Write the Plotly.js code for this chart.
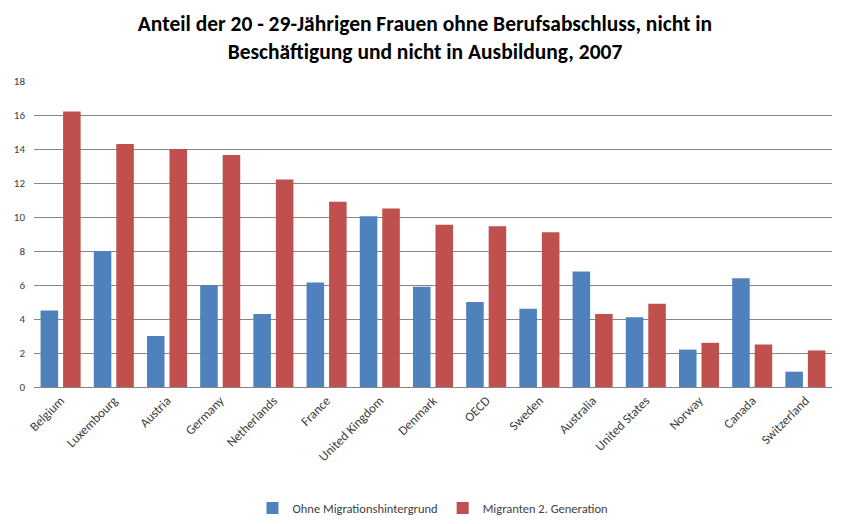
<!DOCTYPE html>
<html>
<head>
<meta charset="utf-8">
<script src="https://cdn.plot.ly/plotly-3.0.1.min.js"></script>
<style>
  html, body { margin: 0; padding: 0; background: #fff; }
  #chart { width: 850px; height: 524px; }
</style>
</head>
<body>
<div id="chart"></div>
<script>
"use strict";

var countries = ["Belgium", "Luxembourg", "Austria", "Germany", "Netherlands", "France",
  "United Kingdom", "Denmark", "OECD", "Sweden", "Australia", "United States",
  "Norway", "Canada", "Switzerland"];
var ohneMigration = [4.5, 8.0, 3.0, 6.0, 4.3, 6.15, 10.05, 5.9, 5.0, 4.6, 6.8, 4.1, 2.2, 6.4, 0.9];
var migranten2Gen = [16.2, 14.3, 14.0, 13.65, 12.2, 10.9, 10.5, 9.55, 9.45, 9.1, 4.3, 4.9, 2.6, 2.5, 2.15];
var yTicks = [0, 2, 4, 6, 8, 10, 12, 14, 16, 18];

var fontFam = "Carlito, 'Liberation Sans Narrow', 'Noto Sans', sans-serif";

var data = [{
  type: "bar",
  name: "Ohne Migrationshintergrund",
  x: countries,
  y: ohneMigration,
  marker: {color: "#4F81BD"}
}, {
  type: "bar",
  name: "Migranten 2. Generation",
  x: countries,
  y: migranten2Gen,
  marker: {color: "#C0504D"}
}];

var layout = {
  width: 850,
  height: 524,
  margin: {l: 34, r: 18, t: 81, b: 137},
  paper_bgcolor: "#fff",
  plot_bgcolor: "#fff",
  font: {family: fontFam, color: "#404040"},
  title: {
    text: "<b>Anteil der 20 - 29-Jährigen Frauen ohne Berufsabschluss, nicht in<br>Beschäftigung und nicht in Ausbildung, 2007</b>",
    font: {family: fontFam, size: 21.5, color: "#000"},
    x: 0.5, xanchor: "center",
    y: 0.94, yanchor: "top"
  },
  barmode: "group",
  bargap: 0.154,
  bargroupgap: 0.22,
  showlegend: true,
  legend: {
    orientation: "h",
    yref: "container",
    x: 0.5, xanchor: "center",
    y: 0.03, yanchor: "middle",
    font: {family: fontFam, size: 12.5, color: "#404040"},
    itemwidth: 30,
    traceorder: "normal"
  },
  xaxis: {
    tickangle: -45,
    tickfont: {family: fontFam, size: 13, color: "#404040"},
    showline: true,
    linecolor: "#868686",
    linewidth: 1,
    ticks: "",
    automargin: false,
    fixedrange: true
  },
  yaxis: {
    range: [0, 18],
    tickvals: yTicks,
    tickfont: {family: fontFam, size: 11, color: "#404040"},
    showgrid: true,
    gridcolor: "#868686",
    gridwidth: 1,
    zeroline: false,
    showline: false,
    ticks: "",
    ticklabelstandoff: 8,
    automargin: false,
    fixedrange: true
  }
};

Plotly.newPlot("chart", data, layout, {displayModeBar: false, staticPlot: true});
</script>
</body>
</html>
